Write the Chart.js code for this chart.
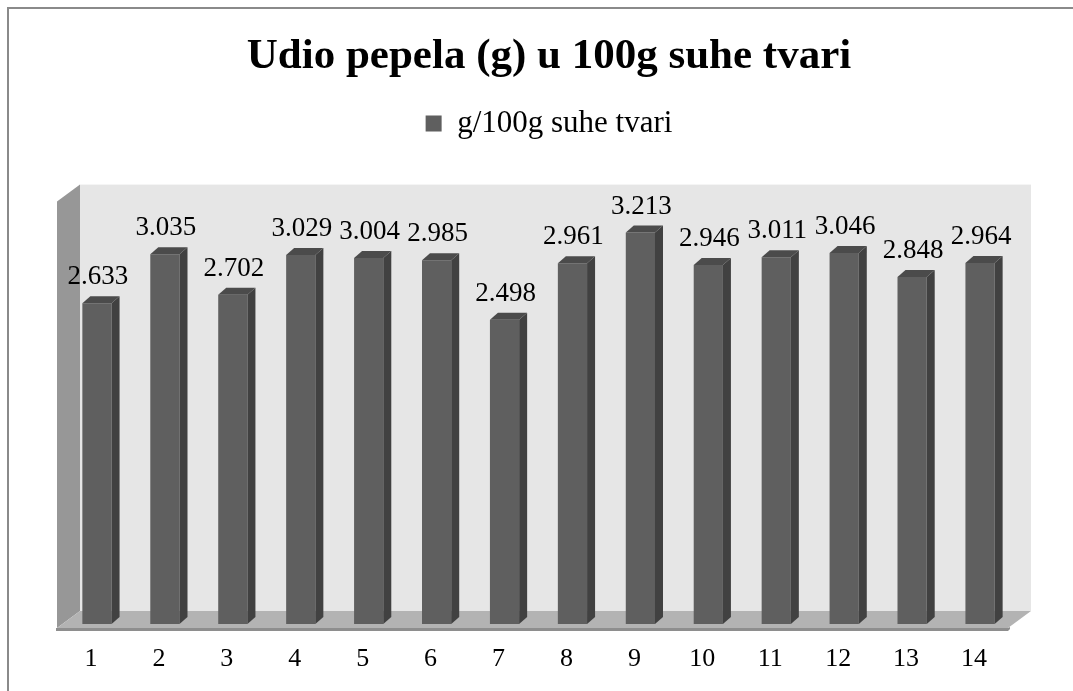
<!DOCTYPE html>
<html lang="hr">
<head>
  <meta charset="UTF-8" />
  <title>Udio pepela</title>
  <script src="https://cdn.jsdelivr.net/npm/chart.js"></script>
  <style>
    html, body {
      margin: 0;
      padding: 0;
      background: #fff;
    }

    /* fixed size box, same as the reference picture */
    .chart-box {
      width: 1073px;
      height: 691px;
      position: relative;
    }
  </style>
</head>
<body>
  <div class="chart-box">
    <canvas id="ashChart"></canvas>
  </div>

  <script>
    // data
    const samples = ['1', '2', '3', '4', '5', '6', '7', '8', '9', '10', '11', '12', '13', '14'];
    const ashValues = [2.633, 3.035, 2.702, 3.029, 3.004, 2.985, 2.498, 2.961, 3.213, 2.946, 3.011, 3.046, 2.848, 2.964];
    const seriesName = 'g/100g suhe tvari';
    const chartTitle = 'Udio pepela (g) u 100g suhe tvari';
    const axisMax = 3.5;

    const serif = "'Liberation Serif', 'Times New Roman', serif";

    // fake 3D look (Excel style walls, floor and bar sides)
    const scene3d = {
      id: 'scene3d',
      beforeDraw(chart) {
        const ctx = chart.ctx;
        ctx.save();
        // outer frame, only top and left are visible in the picture
        ctx.fillStyle = '#8a8a8a';
        ctx.fillRect(7, 7, chart.width, 2);
        ctx.fillRect(7, 7, 2, chart.height);
        ctx.restore();
      },
      beforeDatasetsDraw(chart) {
        const ctx = chart.ctx;
        const xs = chart.scales.x;
        const ys = chart.scales.y;
        const L = xs.left, R = xs.right;
        const B = ys.getPixelForValue(0);
        const T = ys.getPixelForValue(axisMax);
        // front edge and back wall, relative to the plane of the bars
        const fx = -6, fy = 4;
        const bx = 17, by = -13;

        ctx.save();
        // back wall
        ctx.fillStyle = '#e6e6e6';
        ctx.fillRect(L + bx, T + by, R - L, B - T);

        // left side wall
        ctx.fillStyle = '#979797';
        ctx.beginPath();
        ctx.moveTo(L + fx, B + fy);
        ctx.lineTo(L + fx, T + fy);
        ctx.lineTo(L + bx, T + by);
        ctx.lineTo(L + bx, B + by);
        ctx.closePath();
        ctx.fill();

        // floor
        ctx.fillStyle = '#b3b3b3';
        ctx.beginPath();
        ctx.moveTo(L + fx, B + fy);
        ctx.lineTo(R + fx, B + fy);
        ctx.lineTo(R + bx, B + by);
        ctx.lineTo(L + bx, B + by);
        ctx.closePath();
        ctx.fill();

        // floor front edge
        ctx.fillStyle = '#8e8e8e';
        ctx.beginPath();
        ctx.moveTo(L + fx - 1, B + fy);
        ctx.lineTo(R + fx, B + fy);
        ctx.lineTo(R + fx + 2, B + fy - 1);
        ctx.lineTo(R + fx + 2, B + fy + 1);
        ctx.lineTo(R + fx, B + fy + 3);
        ctx.lineTo(L + fx - 1, B + fy + 3);
        ctx.closePath();
        ctx.fill();
        ctx.restore();
      },
      afterDatasetsDraw(chart) {
        const ctx = chart.ctx;
        const meta = chart.getDatasetMeta(0);
        const dx = 8, dy = -7;

        ctx.save();
        meta.data.forEach((bar, i) => {
          const half = bar.width / 2;
          const left = bar.x - half, right = bar.x + half;
          const top = bar.y, base = bar.base;

          // right side of the bar
          ctx.fillStyle = '#414141';
          ctx.beginPath();
          ctx.moveTo(right, top);
          ctx.lineTo(right + dx, top + dy);
          ctx.lineTo(right + dx, base + dy);
          ctx.lineTo(right, base);
          ctx.closePath();
          ctx.fill();

          // top of the bar
          ctx.fillStyle = '#4b4b4b';
          ctx.beginPath();
          ctx.moveTo(left, top);
          ctx.lineTo(left + dx, top + dy);
          ctx.lineTo(right + dx, top + dy);
          ctx.lineTo(right, top);
          ctx.closePath();
          ctx.fill();

          // value label
          ctx.fillStyle = '#000';
          ctx.font = '27px ' + serif;
          ctx.textAlign = 'center';
          ctx.textBaseline = 'alphabetic';
          ctx.fillText(ashValues[i].toFixed(3), bar.x + 1, top - 19);
        });
        ctx.restore();
      }
    };

    const ctx = document.getElementById('ashChart').getContext('2d');
    const ashChart = new Chart(ctx, {
      type: 'bar',
      data: {
        labels: samples,
        datasets: [{
          label: seriesName,
          data: ashValues,
          backgroundColor: '#5f5f5f',
          borderWidth: 0,
          categoryPercentage: 1,
          barPercentage: 0.43
        }]
      },
      plugins: [scene3d],
      options: {
        responsive: true,
        maintainAspectRatio: false,
        animation: false,
        events: [],
        layout: {
          padding: { top: 0, left: 63, right: 38, bottom: 17 }
        },
        plugins: {
          tooltip: { enabled: false },
          title: {
            display: true,
            text: chartTitle,
            color: '#000',
            font: { family: serif, size: 43, weight: 'bold' },
            padding: { top: 31, bottom: 0 }
          },
          legend: {
            display: true,
            position: 'top',
            labels: {
              color: '#000',
              font: { family: serif, size: 31 },
              boxWidth: 16,
              boxHeight: 16,
              padding: 25.4
            }
          }
        },
        scales: {
          x: {
            position: 'bottom',
            grid: { display: false, drawTicks: false },
            border: { display: false },
            ticks: {
              color: '#000',
              font: { family: serif, size: 26 },
              padding: 20,
              labelOffset: -6,
              maxRotation: 0
            },
            afterFit: (s) => { s.height = 50; }
          },
          // empty room between legend and the back wall
          xSpace: {
            type: 'category',
            axis: 'x',
            position: 'top',
            display: false,
            afterFit: (s) => { s.height = 48.6; }
          },
          y: {
            position: 'right',
            display: false,
            min: 0,
            max: axisMax,
            afterFit: (s) => { s.width = 21; }
          }
        }
      }
    });
  </script>
</body>
</html>
